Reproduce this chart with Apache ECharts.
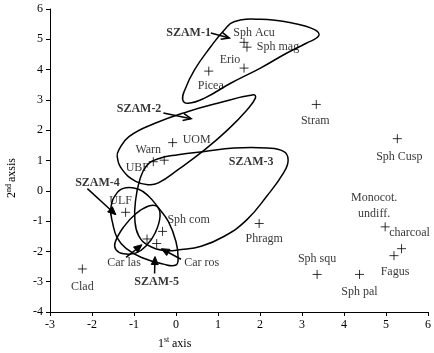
<!DOCTYPE html>
<html><head><meta charset="utf-8">
<script src="https://cdn.jsdelivr.net/npm/echarts@6/dist/echarts.min.js"></script>
<style>html,body{margin:0;padding:0;background:#fff}#c{width:434px;height:353px}</style>
</head><body><div id="c"></div>
<script>
// ---- data ----
const taxa = ['Sph Acu','Sph mag','Erio','Picea','Stram','Sph Cusp','UOM','Warn','UBF','ULF','Sph com','Car las','Car ros','Clad','Phragm','Sph squ','Sph pal','Monocot.\nundiff.','charcoal','Fagus'];
const axis1 = [1.62,1.69,1.62,0.78,3.34,5.27,-0.08,-0.28,-0.54,-1.20,-0.32,-0.69,-0.46,-2.23,1.98,3.36,4.37,4.98,5.37,5.19];
const axis2 = [4.90,4.74,4.05,3.95,2.85,1.72,1.59,1.01,0.96,-0.71,-1.34,-1.59,-1.74,-2.58,-1.08,-2.76,-2.76,-1.19,-1.91,-2.14];
const xTicks = [-3,-2,-1,0,1,2,3,4,5,6];
const yTicks = [-4,-3,-2,-1,0,1,2,3,4,5,6];

// group outlines (data coordinates)
const szam1 = [[1.38,5.58],[2.01,5.66],[2.79,5.53],[3.30,5.32],[3.40,5.12],[3.10,4.87],[2.63,4.54],[2.01,4.05],[1.30,3.55],[0.68,3.06],[0.29,2.89],[0.16,3.00],[0.21,3.33],[0.44,3.99],[0.83,4.76],[1.15,5.31]];
const szam2 = [[1.85,3.17],[0.99,2.89],[0.29,2.62],[-0.50,2.23],[-1.12,1.79],[-1.36,1.35],[-1.40,1.13],[-1.28,0.70],[-0.96,0.31],[-0.65,0.20],[-0.42,0.26],[0.05,0.70],[0.68,1.35],[1.23,2.01],[1.69,2.67],[1.89,3.06]];
const szam3 = [[0.68,1.30],[1.38,1.41],[2.16,1.41],[2.56,1.30],[2.67,1.02],[2.56,0.59],[2.16,-0.18],[1.69,-0.95],[1.15,-1.50],[0.60,-1.83],[0.13,-1.94],[-0.30,-1.97],[-0.65,-1.81],[-0.89,-1.48],[-0.98,-0.95],[-0.96,-0.29],[-0.86,0.37],[-0.70,0.83],[-0.42,1.06],[0.05,1.19]];
const szam4 = [[-1.40,-0.06],[-1.19,0.10],[-0.89,0.05],[-0.65,-0.18],[-0.42,-0.56],[-0.18,-1.02],[0.00,-1.68],[0.05,-2.20],[0.00,-2.45],[-0.30,-2.42],[-0.82,-2.20],[-1.19,-1.90],[-1.40,-1.55],[-1.50,-1.12],[-1.55,-0.56]];
const szam5 = [[-1.45,-1.71],[-1.25,-1.20],[-0.95,-0.75],[-0.65,-0.50],[-0.45,-0.52],[-0.38,-0.85],[-0.50,-1.40],[-0.70,-1.80],[-0.95,-2.05],[-1.25,-2.08],[-1.43,-1.94]];
const outlines = [szam1, szam2, szam3, szam4, szam5];

const groupNames = ['SZAM-1','SZAM-2','SZAM-3','SZAM-4','SZAM-5'];
const groupLabelX = [0.30,-0.88,1.79,-1.87,-0.46];
const groupLabelY = [5.21,2.71,0.97,0.26,-3.02];

// arrows: start x, start y, end x, end y
const arrowStartX = [0.83,-0.30,-2.11,-1.19,0.12,-0.51];
const arrowStartY = [5.21,2.57,0.07,-2.20,-2.26,-2.73];
const arrowEndX   = [1.27,0.36,-1.43,-0.81,-0.35,-0.50];
const arrowEndY   = [5.04,2.38,-0.79,-1.78,-1.91,-2.17];
const arrowOpen   = [true,true,false,false,false,false];

// ---- styles ----
const FONT = '"Liberation Serif","Times New Roman",serif';
const labelOffset = {'Sph Acu':[10,-9],'Sph mag':[31,0],'Erio':[-14,-8],'Picea':[2,15],'Stram':[-1,16],'Sph Cusp':[2,18],'UOM':[24,-3],'Warn':[-16,-10],'UBF':[-16,6],'ULF':[-5,-11],'Sph com':[26,-12],'Car las':[-23,24],'Car ros':[45,19],'Clad':[0,18],'Phragm':[5,15],'Sph squ':[0,-16],'Sph pal':[0,17],'Monocot.\nundiff.':[-11,-21],'charcoal':[8,-16],'Fagus':[1,16]};

const chart = echarts.init(document.getElementById('c'), null, {renderer:'canvas'});

const pointData = taxa.map((n,i)=>({
  name:n, value:[axis1[i],axis2[i]],
  label:{show:true, position:'inside', offset:labelOffset[n], align:'center', verticalAlign:'middle'}
}));

const option = {
  animation:false,
  grid:{left:50,right:1,top:9,bottom:41,containLabel:false},
  xAxis:{type:'value',min:xTicks[0],max:xTicks[xTicks.length-1],interval:1,
    axisLine:{onZero:false,lineStyle:{color:'#000',width:1}},
    axisTick:{show:true,inside:false,length:4,lineStyle:{color:'#000'}},
    axisLabel:{color:'#000',fontFamily:FONT,fontSize:12,margin:7},
    splitLine:{show:false}},
  yAxis:{type:'value',min:yTicks[0],max:yTicks[yTicks.length-1],interval:1,
    axisLine:{onZero:false,lineStyle:{color:'#000',width:1}},
    axisTick:{show:true,inside:false,length:4,lineStyle:{color:'#000'}},
    axisLabel:{color:'#000',fontFamily:FONT,fontSize:12,margin:7},
    splitLine:{show:false}},
  series:[
    {type:'custom',coordinateSystem:'cartesian2d',silent:true,z:1,
      data:outlines.map((o,i)=>[o[0][0],o[0][1],i]),
      renderItem:(params,api)=>{
        const pts = outlines[params.dataIndex].map(p=>api.coord(p));
        return {type:'polygon',shape:{points:pts,smooth:0.45},style:{fill:'none',stroke:'#000',lineWidth:1.5}};
      }},
    {type:'custom',coordinateSystem:'cartesian2d',silent:true,z:3,
      data:arrowStartX.map((x,i)=>[x,arrowStartY[i],arrowEndX[i],arrowEndY[i]]),
      renderItem:(params,api)=>{
        const i = params.dataIndex;
        const p0 = api.coord([arrowStartX[i],arrowStartY[i]]);
        const p1 = api.coord([arrowEndX[i],arrowEndY[i]]);
        const dx=p1[0]-p0[0], dy=p1[1]-p0[1], L=Math.hypot(dx,dy);
        const ux=dx/L, uy=dy/L, nx=-uy, ny=ux;
        const hl=8, hw=3.5;
        const b=[p1[0]-ux*hl,p1[1]-uy*hl];
        const children=[{type:'line',shape:{x1:p0[0],y1:p0[1],x2:arrowOpen[i]?p1[0]:b[0]+ux*2,y2:arrowOpen[i]?p1[1]:b[1]+uy*2},style:{stroke:'#000',lineWidth:1.5}}];
        if(arrowOpen[i]){
          children.push({type:'polyline',shape:{points:[[b[0]+nx*hw,b[1]+ny*hw],p1,[b[0]-nx*hw,b[1]-ny*hw]]},style:{stroke:'#000',fill:'none',lineWidth:1.5}});
        } else {
          children.push({type:'polygon',shape:{points:[p1,[b[0]+nx*hw,b[1]+ny*hw],[b[0]-nx*hw,b[1]-ny*hw]]},style:{fill:'#000',stroke:'#000',lineWidth:1}});
        }
        return {type:'group',children};
      }},
    {type:'scatter',z:4,silent:true,
      symbol:'path://M0,5L10,5M5,0L5,10',symbolSize:9,
      itemStyle:{color:'rgba(0,0,0,0)',borderColor:'#000',borderWidth:1},
      label:{formatter:p=>p.name,color:'#000',fontFamily:FONT,fontSize:12,lineHeight:16},
      data:pointData},
    {type:'scatter',z:5,silent:true,symbolSize:0,
      label:{show:true,position:'inside',formatter:p=>p.name,color:'#000',fontFamily:FONT,fontSize:12,fontWeight:'bold'},
      data:groupNames.map((n,i)=>({name:n,value:[groupLabelX[i],groupLabelY[i]]}))}
  ],
  graphic:[
    {type:'text',x:158,y:350,style:{text:'1',font:'12px '+FONT,fill:'#000',textAlign:'left',textVerticalAlign:'bottom'}},
    {type:'text',x:164,y:344,style:{text:'st',font:'8px '+FONT,fill:'#000',textAlign:'left',textVerticalAlign:'bottom'}},
    {type:'text',x:172,y:350,style:{text:'axis',font:'12px '+FONT,fill:'#000',textAlign:'left',textVerticalAlign:'bottom'}},
    {type:'group',x:18,y:198,rotation:Math.PI/2,children:[
      {type:'text',x:0,y:0,style:{text:'2',font:'12px '+FONT,fill:'#000',textAlign:'left',textVerticalAlign:'bottom'}},
      {type:'text',x:6,y:-5,style:{text:'nd',font:'8px '+FONT,fill:'#000',textAlign:'left',textVerticalAlign:'bottom'}},
      {type:'text',x:16,y:0,style:{text:'axsis',font:'12px '+FONT,fill:'#000',textAlign:'left',textVerticalAlign:'bottom'}}
    ]}
  ]
};
chart.setOption(option);
</script></body></html>
